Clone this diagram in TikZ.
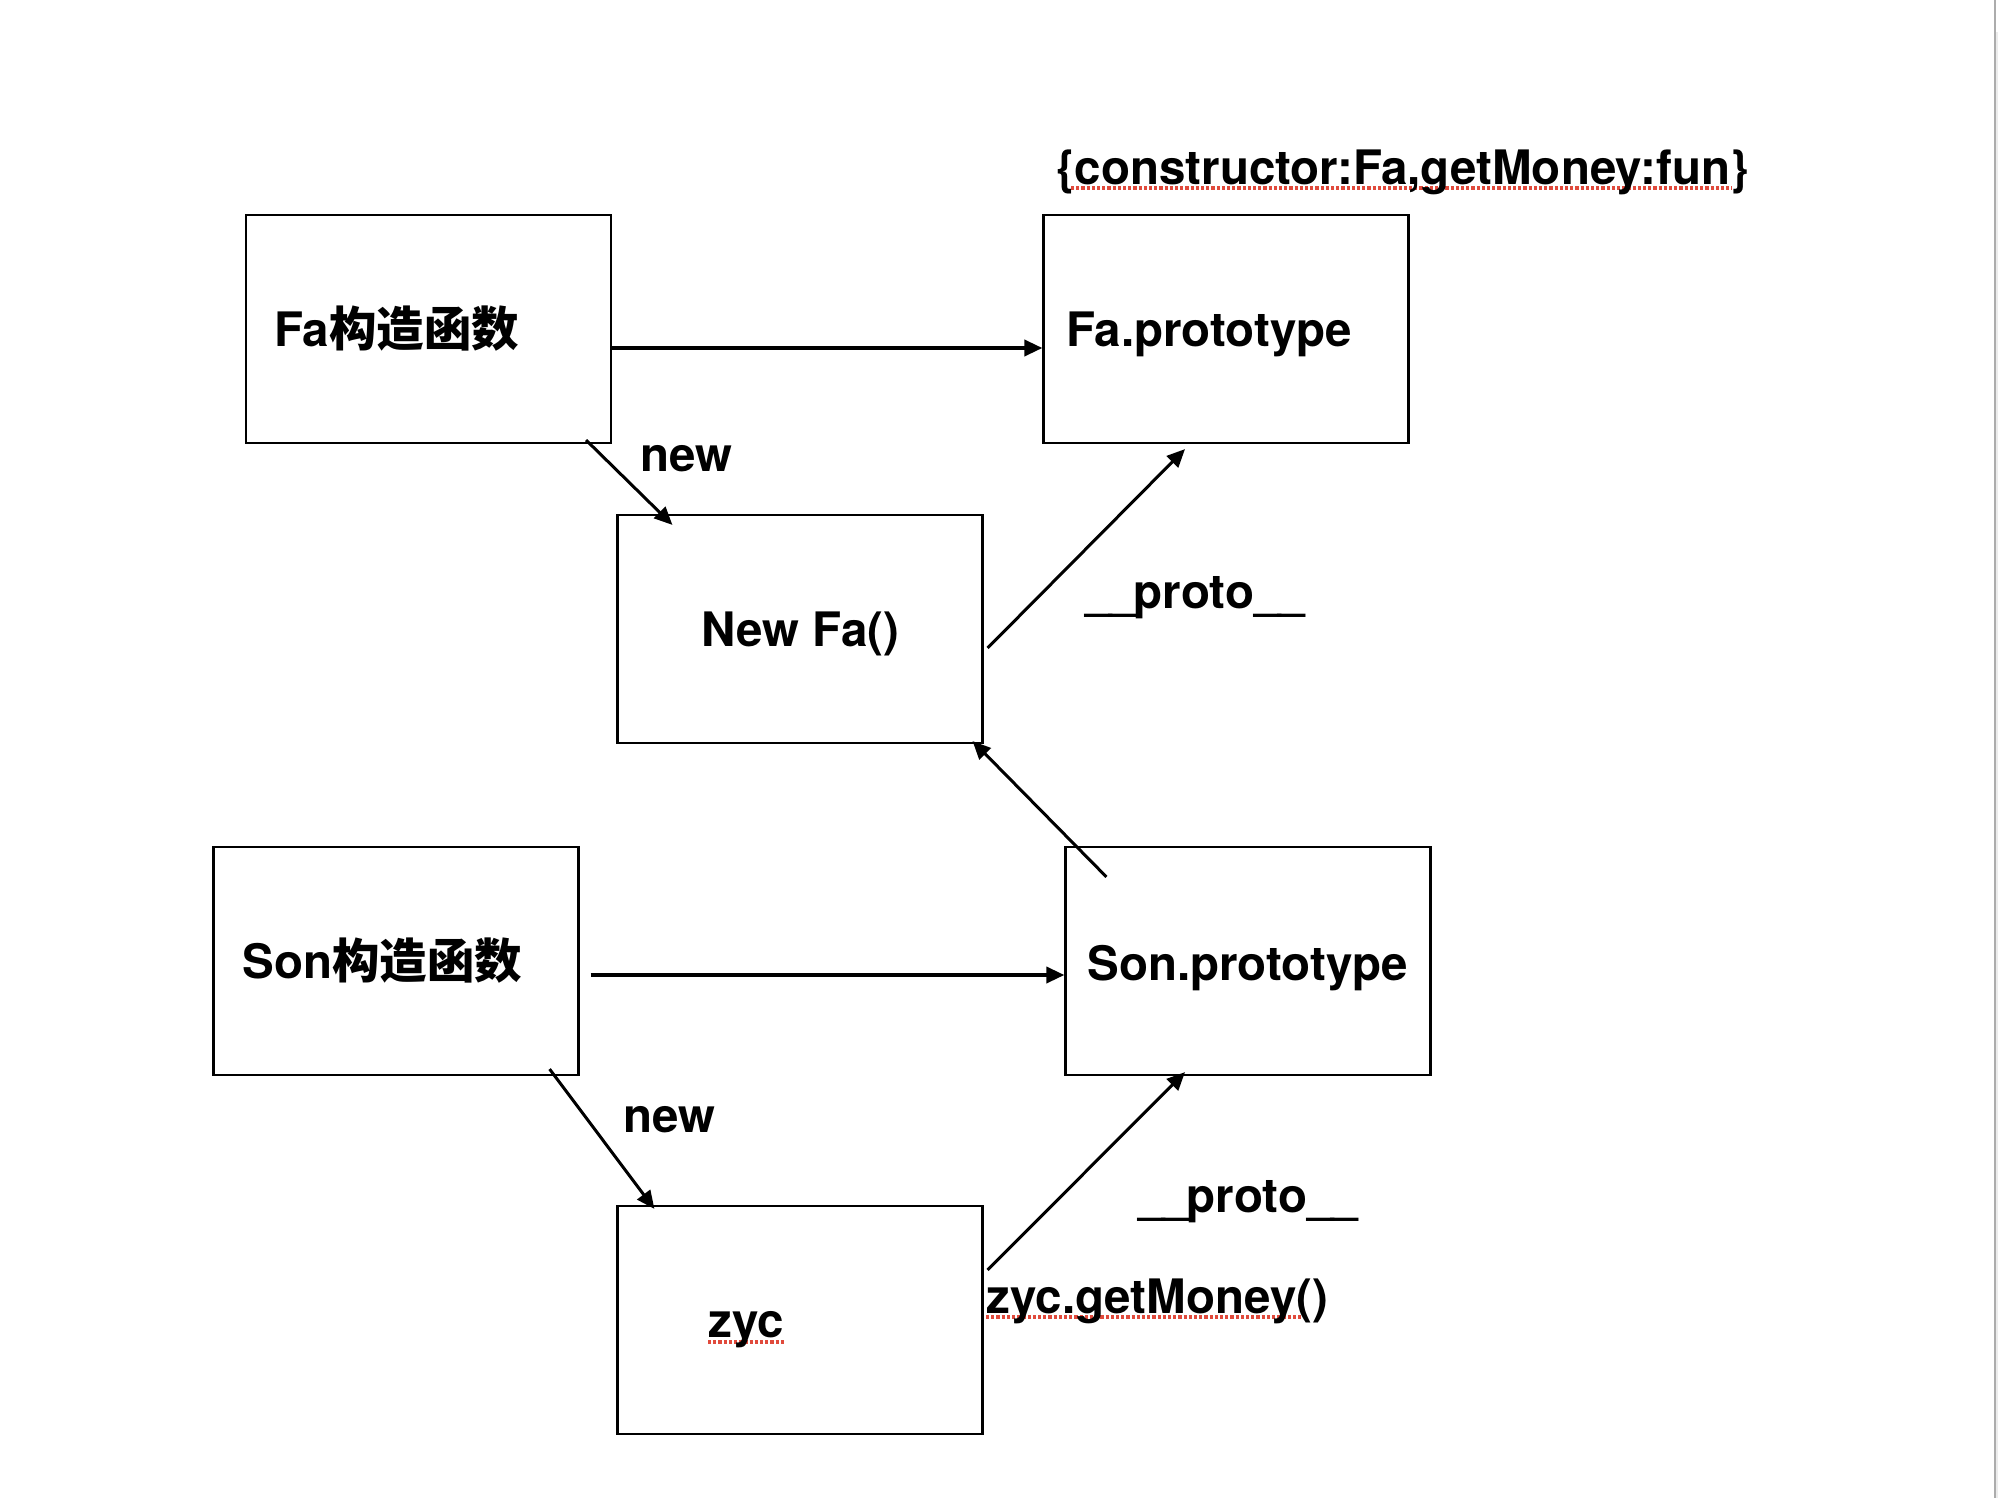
\documentclass[tikz,border=0pt]{standalone}
\usepackage{fontspec}
\setmainfont{TeX Gyre Heros}
\newfontfamily\cjk{Noto Sans CJK SC}
\usetikzlibrary{arrows.meta,calc}
\definecolor{spellred}{RGB}{224,74,60}
\newcommand{\usc}{\_\kern-1.1pt}
\pgfdeclarelayer{bg}
\pgfsetlayers{bg,main}
\begin{document}
\begin{tikzpicture}[x=0.5pt,y=-0.5pt,
  box/.style={draw, line width=1.1pt, rectangle, inner sep=0pt, minimum width=182.5pt, minimum height=114pt},
  lbl/.style={anchor=base west, inner sep=0pt, font=\fontsize{23.75pt}{28pt}\selectfont\bfseries},
  arr/.style={line width=1.5pt, -{Triangle[length=9pt,width=8pt]}},
  harr/.style={arr, line width=1.8pt},
  spell/.style={spellred, line width=1.6pt, dash pattern=on 1.6pt off 1pt}]
\useasboundingbox (0,0) rectangle (1998,1498);
\begin{pgfonlayer}{bg}
\fill[white] (0,0) rectangle (1998,1498);
\end{pgfonlayer}
\draw[gray!65, line width=1pt] (1995,0) -- (1995,1498);
\fill[gray!15] (1996,32) rectangle (1998,1498);

% boxes
\node[box] (fa) at (428.5,329) {};
\node[box] (fap) at (1226,329) {};
\node[box] (newfa) at (800,629) {};
\node[box] (son) at (396,961) {};
\node[box] (sonp) at (1248,961) {};
\node[box] (zyc) at (800,1320) {};

% texts
\node[lbl] (tfa) at (274,347) {Fa{\cjk\bfseries 构造函数}};
\node[lbl] (tfap) at (1066,347) {Fa.prototype};
\node[lbl] (tnewfa) at (701,646) {New Fa()};
\node[lbl] (tson) at (242,978) {Son{\cjk\bfseries 构造函数}};
\node[lbl] (tsonp) at (1087,980) {Son.prototype};
\node[lbl] (tzyc) at (708,1337) {zyc};
\node[lbl] (tobj) at (1056,185) {\{constructor:Fa,getMoney:fun\}};
\node[lbl] (tnew1) at (640,471) {new};
\node[lbl] (tnew2) at (623,1132) {new};
\node[lbl] (tp1) at (1085,608) {\usc\usc proto\usc\_};
\node[lbl] (tp2) at (1138,1212) {\usc\usc proto\usc\_};
\node[lbl] (tget) at (986,1313) {zyc.getMoney()};

% spell-check underlines (behind the text)
\begin{pgfonlayer}{bg}
\draw[spell] ($(tobj.base west)+(15,3)$) -- ($(tobj.base east)+(-17,3)$);
\draw[spell] ($(tget.base west)+(0,4)$) -- ($(tget.base east)+(-27,4)$);
\draw[spell] ($(tzyc.base west)+(0,5)$) -- ($(tzyc.base east)+(0,5)$);
\end{pgfonlayer}

% connectors
\draw[harr] ($(fa.east)+(0,19)$) -- ($(fap.west)+(0,19)$);
\draw[arr] ($(fa.south east)+(-26,-4)$) -- ($(newfa.north west)+(56,11)$);
\draw[arr] ($(newfa.east)+(4,19)$) -- ($(fap.south)+(-41,5)$);
\draw[arr] ($(sonp.north west)+(42,31)$) -- ($(newfa.south east)+(-11,-3)$);
\draw[harr] ($(son.east)+(11,14)$) -- ($(sonp.west)+(0,14)$);
\draw[arr] ($(son.south east)+(-30,-7)$) -- ($(zyc.north west)+(38,4)$);
\draw[arr] ($(zyc.east)+(4,-50)$) -- ($(sonp.south)+(-63,-4)$);
\end{tikzpicture}
\end{document}
